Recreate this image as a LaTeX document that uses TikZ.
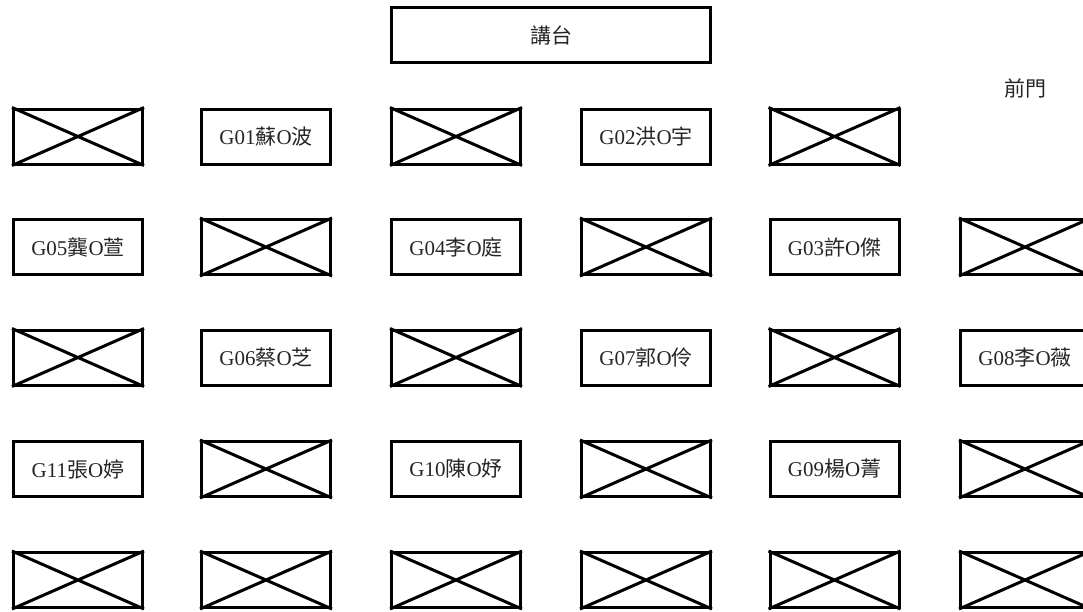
\documentclass[tikz,border=0pt]{standalone}
\usepackage{fontspec}
\setmainfont{Liberation Serif}
\newfontfamily\cjk{Noto Sans CJK TC}
\newcommand{\seatname}[3]{#1{\cjk #2}O{\cjk #3}}
\tikzset{
  seat/.style={draw=black, line width=3pt, minimum width=129pt, minimum height=55pt,
    inner sep=0pt, font=\fontsize{21}{25}\selectfont, text=black!85},
  cross/.style={draw=black, line width=3pt},
  lbl/.style={inner sep=0pt, font=\fontsize{21}{25}\selectfont, text=black!85}
}
\begin{document}
\begin{tikzpicture}[x=1pt,y=-1pt]
\clip (0,0) rectangle (1083,611);
\node[seat, minimum width=319pt] (podium) at (551,35) {\cjk 講台};
\node[lbl] (door) at (1025,88) {\cjk 前門};
% named seats
\node[seat] (g01) at (266,136.5) {\seatname{G01}{蘇}{波}};
\node[seat] (g02) at (646,136.5) {\seatname{G02}{洪}{宇}};
\node[seat] (g05) at (78,247) {\seatname{G05}{龔}{萱}};
\node[seat] (g04) at (456,247) {\seatname{G04}{李}{庭}};
\node[seat] (g03) at (834.5,247) {\seatname{G03}{許}{傑}};
\node[seat] (g06) at (266,357.5) {\seatname{G06}{蔡}{芝}};
\node[seat] (g07) at (646,357.5) {\seatname{G07}{郭}{伶}};
\node[seat] (g08) at (1025,357.5) {\seatname{G08}{李}{薇}};
\node[seat] (g11) at (78,469) {\seatname{G11}{張}{婷}};
\node[seat] (g10) at (456,469) {\seatname{G10}{陳}{妤}};
\node[seat] (g09) at (834.5,469) {\seatname{G09}{楊}{菁}};
% empty (crossed) seats
\foreach \n/\x/\y in {
  e11/78/136.5, e13/456/136.5, e15/834.5/136.5,
  e22/266/247, e24/646/247, e26/1025/247,
  e31/78/357.5, e33/456/357.5, e35/834.5/357.5,
  e42/266/469, e44/646/469, e46/1025/469,
  e51/78/580, e52/266/580, e53/456/580, e54/646/580, e55/834.5/580, e56/1025/580}{
  \node[seat] (\n) at (\x,\y) {};
  \draw[cross] (\n.north west) -- (\n.south east) (\n.south west) -- (\n.north east);
}
\end{tikzpicture}
\end{document}
